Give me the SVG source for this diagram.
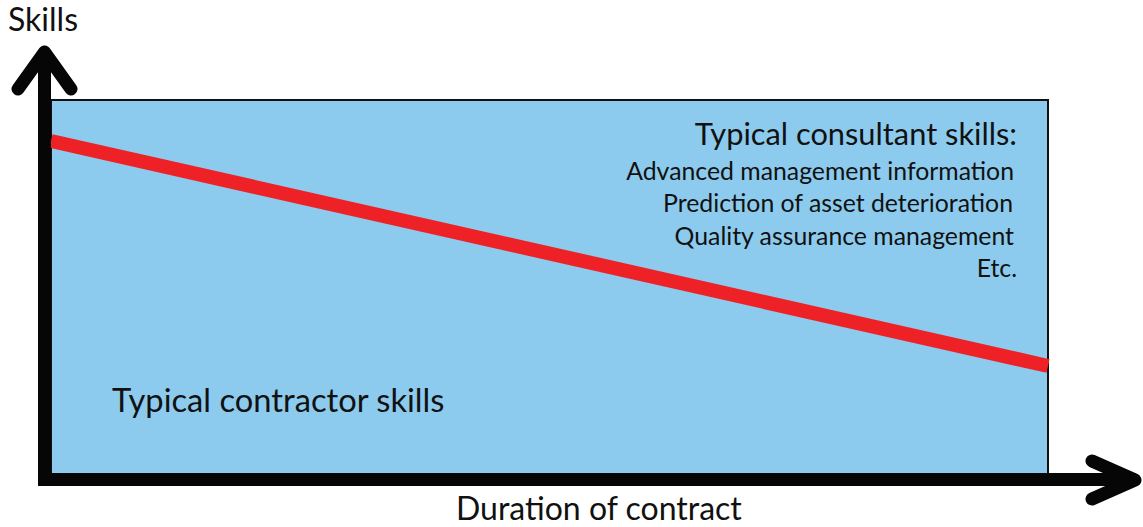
<svg xmlns="http://www.w3.org/2000/svg" width="1143" height="527" viewBox="0 0 1143 527">
<style>
text{font-family:Lato,"Open Sans","Liberation Sans",sans-serif;fill:#111}
.big{font-size:32px}
.item{font-size:24.8px}
.ax{stroke:#060606;stroke-width:13;fill:none;stroke-linecap:round;stroke-linejoin:round}
</style>
<rect x="0" y="0" width="1143" height="527" fill="#fff"/>
<g id="area">
<rect x="51" y="100" width="997" height="374" fill="#8ccbed" stroke="#111" stroke-width="2"/>
</g>
<g id="trend">
<line x1="51" y1="141" x2="1048" y2="366" stroke="#ee2226" stroke-width="14"/>
</g>
<g id="axes">
<path class="ax" d="M44.5 479.5V50" style="stroke-linecap:butt"/>
<path class="ax" d="M38 479.5H1136" style="stroke-linecap:butt"/>
<path class="ax" d="M18 89L44.5 52L71 89"/>
<path class="ax" d="M1092 461L1135 480L1092 499"/>
</g>
<g id="labels">
<text class="big" x="8" y="31">Skills</text>
<text class="big" x="456" y="520">Duration of contract</text>
<text x="112" y="412" style="font-size:32.7px">Typical contractor skills</text>
<g text-anchor="end">
<text x="1017" y="145" style="font-size:30.8px">Typical consultant skills:</text>
<text class="item" x="1014" y="180">Advanced management information</text>
<text class="item" x="1013" y="212">Prediction of asset deterioration</text>
<text class="item" x="1014" y="245">Quality assurance management</text>
<text class="item" x="1017" y="277">Etc.</text>
</g>
</g>
</svg>
